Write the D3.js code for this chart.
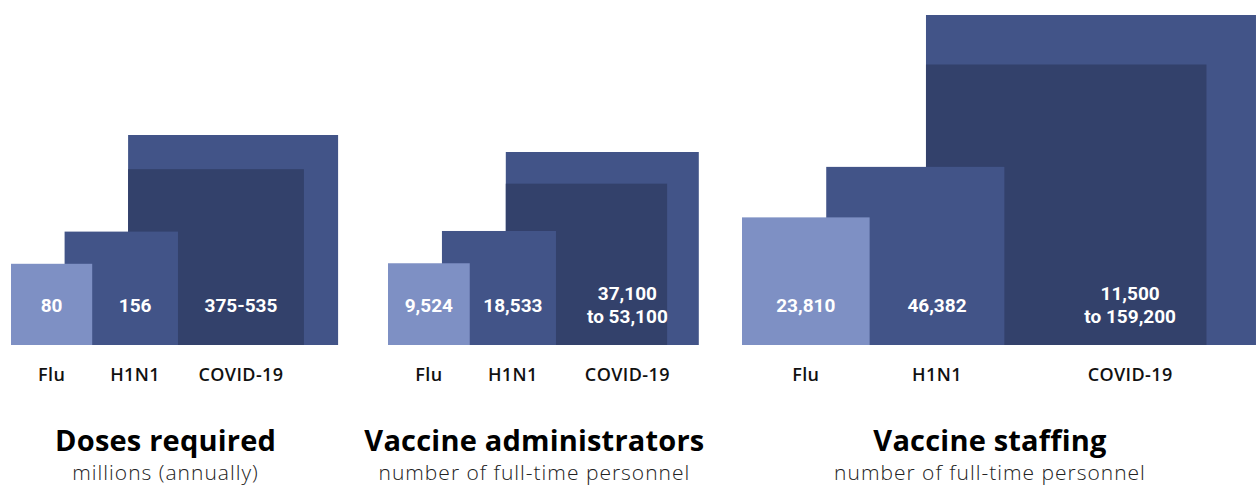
<!DOCTYPE html>
<html>
<head>
<meta charset="utf-8">
<script src="https://cdn.jsdelivr.net/npm/d3@7"></script>
<style>
  body { margin: 0; background: #fff; }
  svg { display: block; font-family: Roboto, "Open Sans", sans-serif; }
  .title, .sub, .cat { font-family: "Open Sans", Roboto, sans-serif; }
</style>
</head>
<body>
<script>
const WIDTH = 1256;
const HEIGHT = 485;
const BASELINE = 345;

// data
const categories = ['Flu', 'H1N1', 'COVID-19'];
const panelTitles = ['Doses required', 'Vaccine administrators', 'Vaccine staffing'];
const panelSubtitles = ['millions (annually)', 'number of full-time personnel', 'number of full-time personnel'];
const fluValues = [80, 9524, 23810];
const h1n1Values = [156, 18533, 46382];
const covidLow = [375, 37100, 115000];
const covidHigh = [535, 53100, 159200];
const fluLabels = ['80', '9,524', '23,810'];
const h1n1Labels = ['156', '18,533', '46,382'];
const covidLabels = [['375-535'], ['37,100', 'to 53,100'], ['11,500', 'to 159,200']];

// layout
const panelLeft = [11, 388, 742];
const panelMaxSide = [210, 193, 330];
const STEP1 = 0.66;   // how far H1N1 square sits right of flu, share of flu side
const STEP2 = 0.56;   // same for COVID vs H1N1

const COLORS = { flu: '#7e90c4', mid: '#425488', dark: '#33416b' };

const svg = d3.select('body')
    .append('svg')
    .attr('width', WIDTH)
    .attr('height', HEIGHT);

panelTitles.forEach((title, i) => {
    const side = d3.scaleSqrt()
        .domain([0, covidHigh[i]])
        .range([0, panelMaxSide[i]]);

    const fluX = panelLeft[i];
    const fluS = side(fluValues[i]);
    const h1X = fluX + STEP1 * fluS;
    const h1S = side(h1n1Values[i]);
    const covX = h1X + STEP2 * h1S;
    const hiS = side(covidHigh[i]);
    const loS = side(covidLow[i]);

    const g = svg.append('g');

    const squares = [
        { x: covX, s: hiS, fill: COLORS.mid },
        { x: covX, s: loS, fill: COLORS.dark },
        { x: h1X, s: h1S, fill: COLORS.mid },
        { x: fluX, s: fluS, fill: COLORS.flu }
    ];
    g.selectAll('rect')
        .data(squares)
        .join('rect')
        .attr('x', d => d.x)
        .attr('y', d => BASELINE - d.s)
        .attr('width', d => d.s)
        .attr('height', d => d.s)
        .attr('fill', d => d.fill);

    // label centres: middle of the visible strip of each square
    const fluC = fluX + fluS / 2;
    const h1C = (fluX + fluS + h1X + h1S) / 2;
    const covLines = covidLabels[i];
    const covC = covLines.length > 1
        ? (h1X + h1S + Math.min(covX + hiS, WIDTH)) / 2
        : (h1X + h1S + covX + loS) / 2;
    const centres = [fluC, h1C, covC];
    const valueLines = [[fluLabels[i]], [h1n1Labels[i]], covLines];

    valueLines.forEach((lines, j) => {
        const t = g.append('text')
            .attr('x', centres[j])
            .attr('text-anchor', 'middle')
            .attr('fill', '#fff')
            .attr('font-size', 19)
            .attr('font-weight', 700);
        const top = lines.length > 1 ? 300 : 312;
        lines.forEach((line, k) => {
            t.append('tspan')
                .attr('x', centres[j])
                .attr('y', top + k * 23)
                .text(line);
        });
    });

    g.selectAll('text.cat')
        .data(categories)
        .join('text')
        .attr('class', 'cat')
        .attr('x', (d, j) => centres[j])
        .attr('y', 381)
        .attr('text-anchor', 'middle')
        .attr('font-size', 18)
        .attr('font-weight', 600)
        .attr('letter-spacing', 0.4)
        .attr('fill', '#111')
        .text(d => d);

    const mid = (fluX + Math.min(covX + hiS, WIDTH)) / 2 - 9;
    g.append('text')
        .attr('class', 'title')
        .attr('x', mid)
        .attr('y', 451)
        .attr('text-anchor', 'middle')
        .attr('font-size', 29)
        .attr('font-weight', 700)
        .attr('letter-spacing', 0.2)
        .attr('fill', '#000')
        .text(title);
    g.append('text')
        .attr('class', 'sub')
        .attr('x', mid)
        .attr('y', 480)
        .attr('text-anchor', 'middle')
        .attr('font-size', 21)
        .attr('font-weight', 300)
        .attr('letter-spacing', 1)
        .attr('fill', '#222')
        .text(panelSubtitles[i]);
});
</script>
</body>
</html>
